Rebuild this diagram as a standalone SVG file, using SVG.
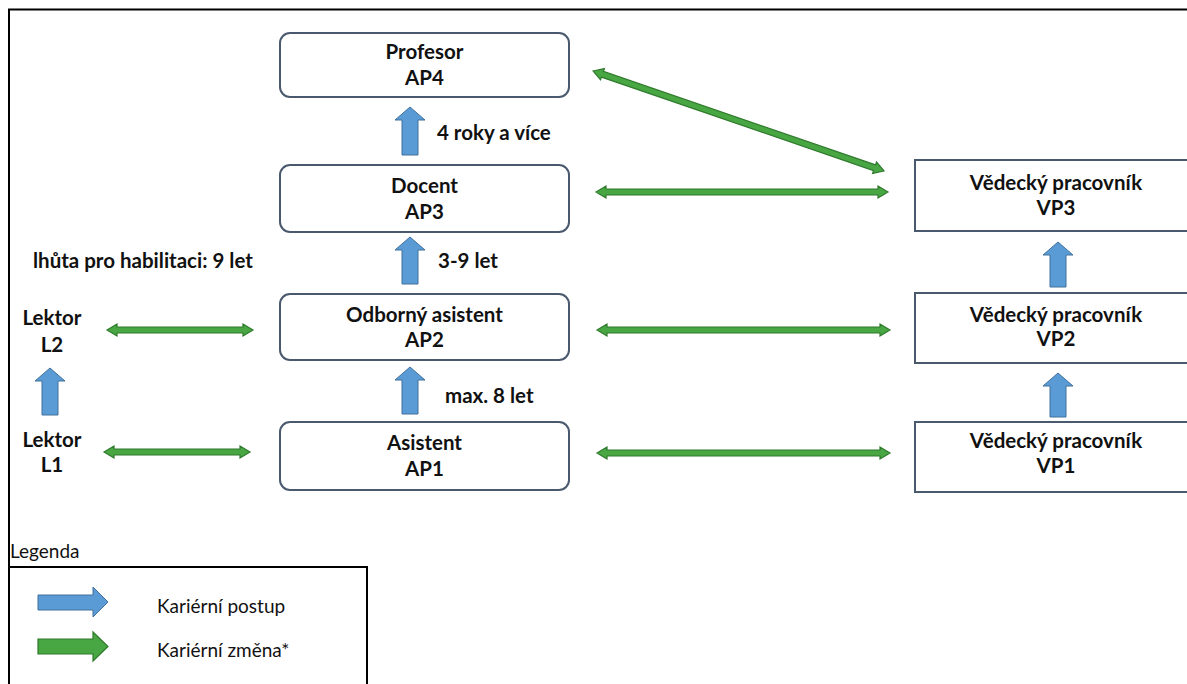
<svg xmlns="http://www.w3.org/2000/svg" width="1187" height="684" viewBox="0 0 1187 684">
<style>
.node{fill:#fff;stroke:#4a5a6e;stroke-width:2}
.t{font-family:Lato,"Liberation Sans",sans-serif;font-weight:bold;font-size:20.5px;fill:#111;text-anchor:middle}
.lbl{font-family:Lato,"Liberation Sans",sans-serif;font-weight:bold;font-size:20.5px;fill:#111}
.leg{font-family:Lato,"Liberation Sans",sans-serif;font-size:19px;fill:#111}
.blue{fill:#5b9bd5;stroke:#41719c;stroke-width:1}
.green{fill:#48a742;stroke:#2f7a2c;stroke-width:1.2}
.frame{fill:none;stroke:#000;stroke-width:2}
</style>
<rect width="1187" height="684" fill="#fff"/>
<g id="frame">
<path class="frame" d="M9,690 V9.5 H1190"/>
<text class="leg" x="10" y="558">Legenda</text>
<rect class="frame" x="9" y="567" width="358" height="130"/>
</g>
<g id="legend">
<polygon class="blue" points="38,595 93,595 93,587 108,602 93,617 93,610 38,610"/>
<text class="leg" x="157" y="613">Kariérní postup</text>
<polygon class="green" points="38,639 93,639 93,632 108,646.5 93,661 93,654 38,654"/>
<text class="leg" x="157" y="657">Kariérní změna*</text>
</g>
<g id="AP4"><rect class="node" x="280" y="33" width="289" height="64" rx="10"/><text class="t" x="424.5" y="59">Profesor</text><text class="t" x="424.5" y="85">AP4</text></g>
<g id="AP3"><rect class="node" x="280" y="165" width="289" height="67" rx="10"/><text class="t" x="424.5" y="193">Docent</text><text class="t" x="424.5" y="219">AP3</text></g>
<g id="AP2"><rect class="node" x="280" y="294" width="289" height="66" rx="10"/><text class="t" x="424.5" y="322">Odborný asistent</text><text class="t" x="424.5" y="347">AP2</text></g>
<g id="AP1"><rect class="node" x="280" y="422" width="289" height="68" rx="10"/><text class="t" x="424.5" y="450">Asistent</text><text class="t" x="424.5" y="476">AP1</text></g>
<g id="VP3"><rect class="node" x="915" y="160" width="285" height="71"/><text class="t" x="1056" y="190">Vědecký pracovník</text><text class="t" x="1056" y="215">VP3</text></g>
<g id="VP2"><rect class="node" x="915" y="293" width="285" height="70"/><text class="t" x="1056" y="322">Vědecký pracovník</text><text class="t" x="1056" y="346">VP2</text></g>
<g id="VP1"><rect class="node" x="915" y="422" width="285" height="70"/><text class="t" x="1056" y="448">Vědecký pracovník</text><text class="t" x="1056" y="473">VP1</text></g>
<g id="L2"><text class="t" x="52" y="325">Lektor</text><text class="t" x="52" y="352">L2</text></g>
<g id="L1"><text class="t" x="52" y="447">Lektor</text><text class="t" x="52" y="472">L1</text></g>
<g id="labels">
<text class="lbl" x="33" y="268">lhůta pro habilitaci: 9 let</text>
<text class="lbl" x="437" y="140">4 roky a více</text>
<text class="lbl" x="438" y="268">3-9 let</text>
<text class="lbl" x="445" y="403">max. 8 let</text>
</g>
<g id="connectors">
<polygon class="blue" points="410,107 425,120 418,120 418,155 402,155 402,120 395,120"/>
<polygon class="blue" points="410,237 425,250 418,250 418,284 402,284 402,250 395,250"/>
<polygon class="blue" points="410,367 425,380 418,380 418,414 402,414 402,380 395,380"/>
<polygon class="blue" points="50,368 65,381 58,381 58,415 42,415 42,381 35,381"/>
<polygon class="blue" points="1058,242 1073,255 1066,255 1066,287 1050,287 1050,255 1043,255"/>
<polygon class="blue" points="1058,373 1073,386 1066,386 1066,417 1050,417 1050,386 1043,386"/>
<polygon class="green" points="107,330 117,324 117,327 243,327 243,324 253,330 243,336 243,333 117,333 117,336"/>
<polygon class="green" points="104,452 114,446 114,449 240,449 240,446 250,452 240,458 240,455 114,455 114,458"/>
<polygon class="green" points="596,192 606,186 606,189 878,189 878,186 888,192 878,198 878,195 606,195 606,198"/>
<polygon class="green" points="597,330 607,324 607,327 880,327 880,324 890,330 880,336 880,333 607,333 607,336"/>
<polygon class="green" points="597,453 607,447 607,450 880,450 880,447 890,453 880,459 880,456 607,456 607,459"/>
<polygon class="green" transform="translate(593,71) rotate(18.96)" points="0,0 10,-6 10,-3 297.7,-3 297.7,-6 307.7,0 297.7,6 297.7,3 10,3 10,6"/>
</g>
</svg>
